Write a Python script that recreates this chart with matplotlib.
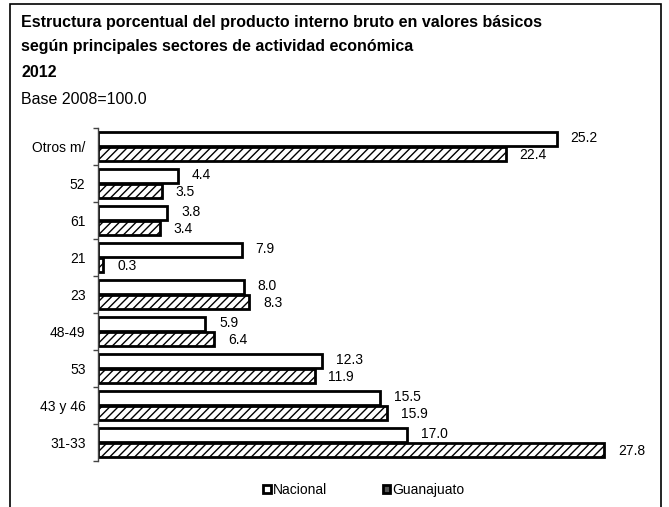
import matplotlib
matplotlib.use("Agg")
import matplotlib.pyplot as plt
from matplotlib.patches import Patch, Rectangle
import numpy as np

plt.rcParams['font.family'] = ['Liberation Sans', 'DejaVu Sans']
plt.rcParams['hatch.linewidth'] = 1.0

sectores = ["Otros m/", "52", "61", "21", "23", "48-49", "53", "43 y 46", "31-33"]
nacional = [25.2, 4.4, 3.8, 7.9, 8.0, 5.9, 12.3, 15.5, 17.0]
guanajuato = [22.4, 3.5, 3.4, 0.3, 8.3, 6.4, 11.9, 15.9, 27.8]

titulo = "Estructura porcentual del producto interno bruto en valores básicos\nsegún principales sectores de actividad económica"
anio = "2012"
base = "Base 2008=100.0"

W, H = 669, 507
fig = plt.figure(figsize=(W / 100, H / 100), dpi=100)

# outer frame (open at the bottom)
fig.add_artist(Rectangle((10 / W, -0.05), (661 - 10) / W, 1.05 - 4 / H,
                         transform=fig.transFigure, fill=False,
                         edgecolor='black', linewidth=1.2))

fs_t = 11.5
fig.text(21 / W, 1 - 22 / H, titulo.split("\n")[0], fontsize=fs_t, fontweight='bold', va='center')
fig.text(21 / W, 1 - 46 / H, titulo.split("\n")[1], fontsize=fs_t, fontweight='bold', va='center')
fig.text(21 / W, 1 - 72 / H, anio, fontsize=fs_t, fontweight='bold', va='center')
fig.text(21 / W, 1 - 99 / H, base, fontsize=fs_t, va='center')

ax = fig.add_axes([98 / W, 1 - 461 / H, 546 / W, (461 - 128) / H])

y = np.arange(len(sectores))
h = 0.39
ax.barh(y - 0.2, nacional, height=h, color='white', edgecolor='black', linewidth=2)
ax.barh(y + 0.2, guanajuato, height=h, color='white', edgecolor='black', linewidth=2,
        hatch='////')

for yi, v in zip(y, nacional):
    ax.annotate(f"{v:.1f}", (v, yi - 0.22), xytext=(10, 0), textcoords='offset points',
                va='center', ha='left', fontsize=10)
for yi, v in zip(y, guanajuato):
    ax.annotate(f"{v:.1f}", (v, yi + 0.24), xytext=(10, 0), textcoords='offset points',
                va='center', ha='left', fontsize=10)

ax.set_xlim(0, 30)
ax.set_ylim(len(sectores) - 0.5, -0.5)
ax.set_yticks(np.arange(-0.5, len(sectores) + 0.5, 1.0))
ax.set_yticklabels([])
ax.set_yticks(y, minor=True)
ax.set_yticklabels(sectores, minor=True, fontsize=10)
ax.tick_params(axis='y', which='major', direction='out', length=3.5, width=1, color='#444444')
ax.tick_params(axis='y', which='minor', length=0, pad=9)
ax.set_xticks([])
for s in ['top', 'right', 'bottom']:
    ax.spines[s].set_visible(False)
ax.spines['left'].set_color('#444444')
ax.spines['left'].set_linewidth(1)

handles = [Patch(facecolor='white', edgecolor='black', linewidth=2, label='Nacional'),
           Patch(facecolor='#555555', edgecolor='black', linewidth=2, label='Guanajuato')]
fig.legend(handles=handles, loc='center', bbox_to_anchor=(364 / W, 1 - 490 / H), ncol=2,
           frameon=False, fontsize=10, handlelength=0.55, handleheight=0.55,
           handletextpad=0.15, columnspacing=4.0)

fig.savefig("out.png", dpi=100)
